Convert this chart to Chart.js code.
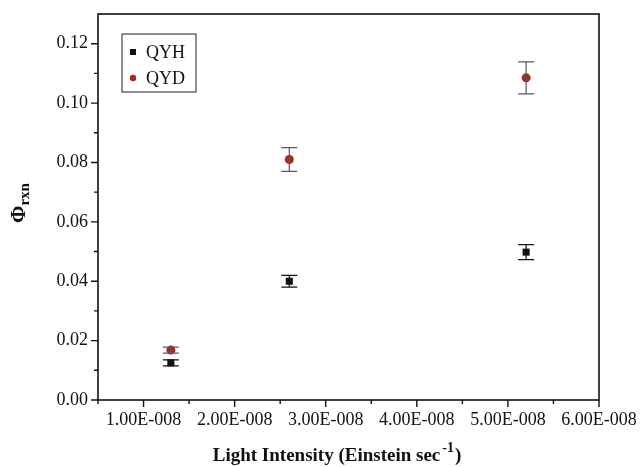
<!DOCTYPE html>
<html lang="en">
<head>
    <meta charset="UTF-8">
    <title>Quantum yield vs light intensity</title>
    <script src="https://cdn.jsdelivr.net/npm/chart.js"></script>
    <style>
        html, body { margin: 0; padding: 0; background: #fff; }
        #box { width: 642px; height: 467px; }
    </style>
</head>
<body>
    <div id="box"><canvas id="phiCanvas"></canvas></div>

    <script>
// values
const intensity = [1.3e-8, 2.6e-8, 5.2e-8];
const qyh = [0.0125, 0.0400, 0.0498];
const qyhErr = [0.0010, 0.0020, 0.0025];
const qyd = [0.0168, 0.0810, 0.1085];
const qydErr = [0.0010, 0.0040, 0.0054];
const seriesNames = ['QYH', 'QYD'];

const serif = '"Liberation Serif", "Times New Roman", serif';
const red = '#a8281c';

// error bars, tick marks, frame, legend and axis titles
const extras = {
    id: 'extras',
    afterDatasetsDraw(chart) {
        const ctx = chart.ctx;
        const xs = chart.scales.x, ys = chart.scales.y;

        // error bars
        const errs = [qyhErr, qydErr];
        const errColors = ['#111', '#555a6a'];
        chart.data.datasets.forEach((ds, i) => {
            ctx.save();
            ctx.strokeStyle = errColors[i];
            ctx.lineWidth = 1.2;
            ds.data.forEach((p, j) => {
                const x = xs.getPixelForValue(p.x);
                const top = ys.getPixelForValue(p.y + errs[i][j]);
                const bot = ys.getPixelForValue(p.y - errs[i][j]);
                ctx.beginPath();
                ctx.moveTo(x, top); ctx.lineTo(x, bot);
                ctx.moveTo(x - 8, top); ctx.lineTo(x + 8, top);
                ctx.moveTo(x - 8, bot); ctx.lineTo(x + 8, bot);
                ctx.stroke();
            });
            ctx.restore();
        });
    },
    afterDraw(chart) {
        const ctx = chart.ctx;
        const xs = chart.scales.x, ys = chart.scales.y;
        const a = chart.chartArea;
        ctx.save();
        ctx.strokeStyle = '#111';
        ctx.lineWidth = 1.6;
        ctx.strokeRect(a.left, a.top, a.right - a.left, a.bottom - a.top);

        // ticks outside the frame, long for labelled ones
        ctx.lineWidth = 1.4;
        ctx.beginPath();
        xs.ticks.forEach((t, i) => {
            const x = xs.getPixelForTick(i);
            const len = t.label ? 7 : 4;
            ctx.moveTo(x, a.bottom); ctx.lineTo(x, a.bottom + len);
        });
        ys.ticks.forEach((t, i) => {
            const y = ys.getPixelForTick(i);
            if (y < a.top + 1) return;
            const len = t.label ? 7 : 4;
            ctx.moveTo(a.left, y); ctx.lineTo(a.left - len, y);
        });
        ctx.stroke();

        // legend
        ctx.lineWidth = 1;
        ctx.strokeStyle = '#222';
        ctx.strokeRect(122, 34, 74, 58);
        ctx.font = '18px ' + serif;
        ctx.textBaseline = 'middle';
        chart.data.datasets.forEach((ds, i) => {
            const y = 52 + i * 26;
            ctx.fillStyle = ds.backgroundColor;
            if (ds.pointStyle === 'rect') {
                ctx.fillRect(130, y - 3, 6, 6);
            } else {
                ctx.beginPath(); ctx.arc(133, y, 3.2, 0, Math.PI * 2); ctx.fill();
            }
            ctx.fillStyle = '#111';
            ctx.fillText(ds.label, 146, y + 1);
        });

        // x title with superscript
        ctx.font = 'bold 19px ' + serif;
        ctx.textBaseline = 'alphabetic';
        const main = 'Light Intensity (Einstein sec';
        const wMain = ctx.measureText(main).width;
        ctx.font = 'bold 14px ' + serif;
        const wSup = ctx.measureText('-1').width;
        ctx.font = 'bold 19px ' + serif;
        const wEnd = ctx.measureText(')').width;
        let x0 = 337 - (wMain + wSup + wEnd + 3) / 2;
        ctx.fillText(main, x0, 461);
        ctx.font = 'bold 14px ' + serif;
        ctx.fillText('-1', x0 + wMain + 2, 452);
        ctx.font = 'bold 19px ' + serif;
        ctx.fillText(')', x0 + wMain + wSup + 3, 461);

        // y title: Phi with subscript rxn
        ctx.translate(25, 203);
        ctx.rotate(-Math.PI / 2);
        ctx.font = 'bold 21px ' + serif;
        const wPhi = ctx.measureText('\u03A6').width;
        ctx.font = 'bold 15px ' + serif;
        const wSub = ctx.measureText('rxn').width;
        ctx.font = 'bold 21px ' + serif;
        const sx = -(wPhi + wSub) / 2;
        ctx.fillText('\u03A6', sx, 0);
        ctx.font = 'bold 15px ' + serif;
        ctx.fillText('rxn', sx + wPhi, 4);
        ctx.restore();
    }
};

const ctx = document.getElementById('phiCanvas').getContext('2d');
new Chart(ctx, {
    type: 'scatter',
    data: {
        datasets: [
            {
                label: seriesNames[0],
                data: intensity.map((x, i) => ({ x: x, y: qyh[i] })),
                pointStyle: 'rect',
                pointRadius: 5,
                backgroundColor: '#111',
                borderColor: '#111',
                borderWidth: 0
            },
            {
                label: seriesNames[1],
                data: intensity.map((x, i) => ({ x: x, y: qyd[i] })),
                pointStyle: 'circle',
                pointRadius: 4.5,
                backgroundColor: red,
                borderColor: red,
                borderWidth: 0
            }
        ]
    },
    options: {
        responsive: true,
        maintainAspectRatio: false,
        animation: false,
        layout: { padding: { left: 10, right: 43, top: 14, bottom: 10 } },
        plugins: { legend: { display: false }, tooltip: { enabled: false } },
        scales: {
            x: {
                type: 'linear',
                min: 0.5e-8,
                max: 6e-8,
                grid: { display: false, drawTicks: false },
                border: { display: false },
                afterFit: s => { s.height = 57; s.paddingLeft = 0; s.paddingRight = 0; },
                ticks: {
                    stepSize: 0.5e-8,
                    autoSkip: false,
                    maxRotation: 0,
                    padding: 9,
                    color: '#111',
                    font: { family: serif, size: 18 },
                    callback: v => {
                        const k = Math.round(v / 0.5e-8);
                        return k % 2 === 0 ? (k / 2).toFixed(2) + 'E-008' : '';
                    }
                }
            },
            y: {
                min: 0,
                max: 0.13,
                grid: { display: false, drawTicks: false },
                border: { display: false },
                afterFit: s => { s.width = 88; s.paddingTop = 0; s.paddingBottom = 0; },
                ticks: {
                    stepSize: 0.01,
                    autoSkip: false,
                    padding: 10,
                    color: '#111',
                    font: { family: serif, size: 18 },
                    callback: v => {
                        const k = Math.round(v * 100);
                        return k % 2 === 0 ? (k / 100).toFixed(2) : '';
                    }
                }
            }
        }
    },
    plugins: [extras]
});
    </script>
</body>
</html>
